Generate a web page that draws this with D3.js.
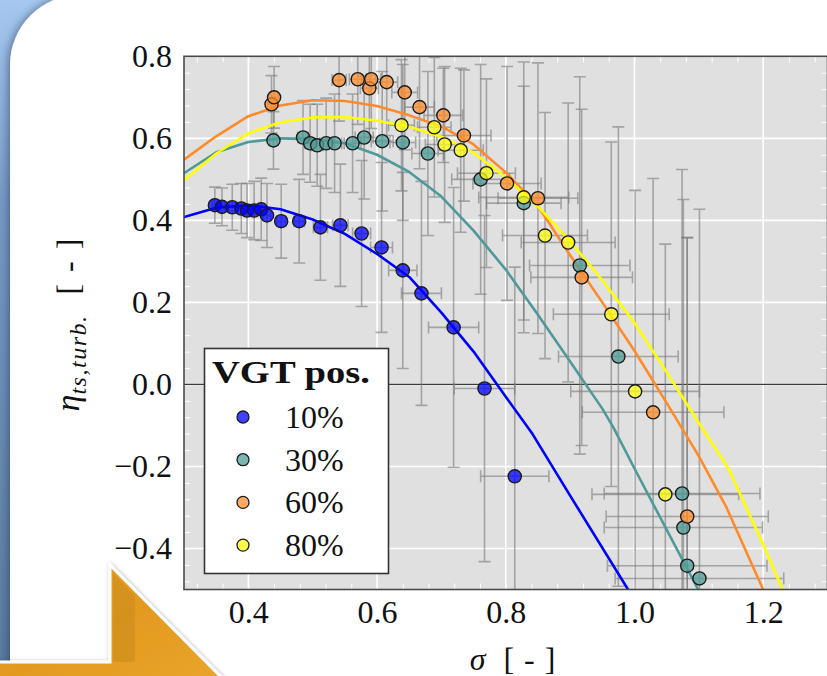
<!DOCTYPE html>
<html>
<head>
<meta charset="utf-8">
<script src="https://cdn.jsdelivr.net/npm/d3@7"></script>
<style>
  html, body { margin: 0; padding: 0; overflow: hidden; background: #fff; }
</style>
</head>
<body>
<div id="chart"></div>
<script>
const W = 827, H = 676;
const serif = "'Liberation Serif', 'Times New Roman', serif";

// measured points: [sigma, eta, sigma error, eta error]
const pos10 = [
  [0.348, 0.437, 0.004, 0.044], [0.359, 0.433, 0.004, 0.046], [0.375, 0.432, 0.005, 0.056],
  [0.389, 0.429, 0.005, 0.061], [0.398, 0.424, 0.005, 0.066], [0.409, 0.424, 0.006, 0.071],
  [0.420, 0.427, 0.006, 0.076], [0.429, 0.412, 0.006, 0.078], [0.451, 0.398, 0.007, 0.090],
  [0.479, 0.398, 0.008, 0.102], [0.512, 0.383, 0.011, 0.129], [0.543, 0.388, 0.012, 0.149],
  [0.576, 0.368, 0.014, 0.178], [0.607, 0.334, 0.017, 0.207], [0.640, 0.278, 0.022, 0.239],
  [0.669, 0.222, 0.031, 0.273], [0.719, 0.139, 0.039, 0.341], [0.767, -0.010, 0.047, 0.422],
  [0.814, -0.224, 0.053, 0.510]
];
const pos30 = [
  [0.439, 0.595, 0.006, 0.070], [0.485, 0.602, 0.008, 0.090], [0.496, 0.588, 0.008, 0.095],
  [0.507, 0.583, 0.009, 0.100], [0.521, 0.588, 0.010, 0.110], [0.534, 0.588, 0.011, 0.120],
  [0.562, 0.588, 0.013, 0.120], [0.580, 0.602, 0.014, 0.150], [0.608, 0.593, 0.017, 0.170],
  [0.640, 0.590, 0.020, 0.190], [0.679, 0.563, 0.025, 0.200], [0.761, 0.500, 0.045, 0.280],
  [0.828, 0.442, 0.058, 0.285], [0.915, 0.290, 0.078, 0.460], [0.975, 0.068, 0.093, 0.560],
  [1.074, -0.266, 0.121, 0.790], [1.076, -0.349, 0.123, 0.800], [1.082, -0.442, 0.124, 0.800],
  [1.101, -0.473, 0.131, 0.900]
];
const pos60 = [
  [0.436, 0.683, 0.006, 0.070], [0.440, 0.700, 0.006, 0.075], [0.541, 0.742, 0.011, 0.100],
  [0.570, 0.744, 0.013, 0.110], [0.588, 0.722, 0.014, 0.120], [0.591, 0.744, 0.015, 0.120],
  [0.615, 0.737, 0.017, 0.130], [0.643, 0.712, 0.020, 0.140], [0.666, 0.676, 0.023, 0.150],
  [0.703, 0.656, 0.030, 0.115], [0.735, 0.607, 0.042, 0.160], [0.802, 0.490, 0.053, 0.285],
  [0.850, 0.454, 0.062, 0.330], [0.918, 0.261, 0.079, 0.410], [1.029, -0.068, 0.110, 0.570],
  [1.082, -0.322, 0.126, 0.680]
];
const pos80 = [
  [0.638, 0.632, 0.020, 0.160], [0.689, 0.627, 0.026, 0.170], [0.705, 0.585, 0.030, 0.190],
  [0.730, 0.571, 0.035, 0.200], [0.770, 0.515, 0.045, 0.230], [0.828, 0.456, 0.070, 0.330],
  [0.861, 0.363, 0.066, 0.300], [0.897, 0.346, 0.073, 0.340], [0.964, 0.171, 0.090, 0.420],
  [1.001, -0.017, 0.100, 0.490], [1.048, -0.268, 0.114, 0.610]
];

// model curves: [sigma, eta]
const fit10 = [
  [0.30, 0.408], [0.35, 0.431], [0.40, 0.437], [0.45, 0.427], [0.50, 0.402], [0.55, 0.367],
  [0.60, 0.318], [0.65, 0.262], [0.70, 0.175], [0.75, 0.080], [0.80, -0.030], [0.84, -0.117],
  [0.90, -0.271], [0.99, -0.500], [1.00, -0.53]
];
const fit30 = [
  [0.30, 0.515], [0.35, 0.566], [0.40, 0.591], [0.45, 0.600], [0.50, 0.598], [0.55, 0.588],
  [0.60, 0.560], [0.65, 0.518], [0.70, 0.458], [0.75, 0.375], [0.80, 0.280], [0.85, 0.170],
  [0.90, 0.056], [0.95, -0.059], [0.967, -0.104], [1.00, -0.205], [1.099, -0.500], [1.11, -0.53]
];
const fit60 = [
  [0.30, 0.548], [0.35, 0.605], [0.40, 0.654], [0.45, 0.680], [0.50, 0.693], [0.55, 0.691],
  [0.60, 0.679], [0.65, 0.656], [0.70, 0.629], [0.75, 0.585], [0.80, 0.517], [0.85, 0.435],
  [0.90, 0.315], [0.95, 0.200], [1.00, 0.082], [1.05, -0.045], [1.10, -0.175], [1.143, -0.300],
  [1.20, -0.500], [1.21, -0.53]
];
const fit80 = [
  [0.30, 0.498], [0.35, 0.563], [0.40, 0.612], [0.45, 0.639], [0.50, 0.651], [0.55, 0.652],
  [0.60, 0.643], [0.65, 0.628], [0.70, 0.604], [0.75, 0.565], [0.80, 0.505], [0.85, 0.434],
  [0.90, 0.349], [0.95, 0.254], [1.00, 0.150], [1.05, 0.030], [1.10, -0.094], [1.146, -0.205],
  [1.20, -0.390], [1.23, -0.500], [1.24, -0.53]
];

const xTicks = [0.4, 0.6, 0.8, 1.0, 1.2];
const yTicks = [-0.4, -0.2, 0.0, 0.2, 0.4, 0.6, 0.8];
const labels = ['10%', '30%', '60%', '80%'];

const series = [
  { label: labels[0], pts: pos10, fit: fit10, line: '#0000ff', fill: '#0000ff' },
  { label: labels[1], pts: pos30, fit: fit30, line: '#4f9a98', fill: '#4f9c98' },
  { label: labels[2], pts: pos60, fit: fit60, line: '#ff8a2a', fill: '#ff8c2c' },
  { label: labels[3], pts: pos80, fit: fit80, line: '#ffff00', fill: '#ffff10' }
];

const pLeft = 184, pRight = 827.5, pTop = 56.3, pBottom = 589.5;

const svg = d3.select('#chart').append('svg')
    .attr('width', W)
    .attr('height', H)
    .style('display', 'block');

const defs = svg.append('defs');

const bg = defs.append('linearGradient').attr('id', 'bg')
    .attr('x1', 0).attr('y1', 0).attr('x2', 0).attr('y2', 1);
bg.append('stop').attr('offset', 0).attr('stop-color', '#a6c8f0');
bg.append('stop').attr('offset', 0.3).attr('stop-color', '#7a9bc6');
bg.append('stop').attr('offset', 1).attr('stop-color', '#5b7a9f');

const og = defs.append('linearGradient').attr('id', 'arrow')
    .attr('x1', 0).attr('y1', 0).attr('x2', 1).attr('y2', 1);
og.append('stop').attr('offset', 0).attr('stop-color', '#e9a028');
og.append('stop').attr('offset', 0.5).attr('stop-color', '#e39a1f');
og.append('stop').attr('offset', 1).attr('stop-color', '#eaa52c');

const sh = defs.append('filter').attr('id', 'shadow')
    .attr('x', -0.2).attr('y', -0.2).attr('width', 1.4).attr('height', 1.4);
sh.append('feDropShadow').attr('dx', -2).attr('dy', 0).attr('stdDeviation', 4)
    .attr('flood-color', '#1d3656').attr('flood-opacity', 0.55);

const sh2 = defs.append('filter').attr('id', 'shadow2')
    .attr('x', -0.2).attr('y', -0.2).attr('width', 1.4).attr('height', 1.4);
sh2.append('feDropShadow').attr('dx', 1).attr('dy', 1).attr('stdDeviation', 2)
    .attr('flood-color', '#000').attr('flood-opacity', 0.35);

defs.append('clipPath').attr('id', 'plotclip')
  .append('rect')
    .attr('x', pLeft).attr('y', pTop)
    .attr('width', pRight - pLeft).attr('height', pBottom - pTop);

// slide background
svg.append('rect').attr('width', W).attr('height', H).attr('fill', 'url(#bg)');
svg.append('path')
    .attr('d', `M10,65 A70,70 0 0 1 80,-5 L${W + 5},-5 L${W + 5},${H + 5} L10,${H + 5} Z`)
    .attr('fill', '#ffffff')
    .attr('filter', 'url(#shadow)');

const x = d3.scaleLinear().domain([0.3, 1.3]).range([pLeft, pRight]);
const y = d3.scaleLinear().domain([-0.5, 0.8]).range([pBottom, pTop]);

// axes background
svg.append('rect')
    .attr('x', pLeft).attr('y', pTop)
    .attr('width', pRight - pLeft).attr('height', pBottom - pTop)
    .attr('fill', '#e0e0e0');

const plot = svg.append('g').attr('clip-path', 'url(#plotclip)');

// grid
plot.append('g').selectAll('line')
  .data(xTicks)
  .enter().append('line')
    .attr('x1', d => x(d)).attr('x2', d => x(d))
    .attr('y1', pTop).attr('y2', pBottom)
    .attr('stroke', '#fff').attr('stroke-width', 1.6);
plot.append('g').selectAll('line')
  .data(yTicks)
  .enter().append('line')
    .attr('y1', d => y(d)).attr('y2', d => y(d))
    .attr('x1', pLeft).attr('x2', pRight)
    .attr('stroke', '#fff').attr('stroke-width', 1.6);

// minor ticks, inside, all four sides
const xMinor = d3.range(8, 33).map(i => i * 0.04);
const yMinor = d3.range(-12, 21).map(i => i * 0.04);
const minor = [
  [d3.axisBottom(x).tickValues(xMinor), `translate(0,${pBottom})`],
  [d3.axisTop(x).tickValues(xMinor), `translate(0,${pTop})`],
  [d3.axisLeft(y).tickValues(yMinor), `translate(${pLeft},0)`],
  [d3.axisRight(y).tickValues(yMinor), `translate(${pRight},0)`]
];
minor.forEach(([ax, tr]) => {
  const g = plot.append('g').attr('transform', tr)
      .call(ax.tickSize(-6).tickFormat(''));
  g.select('.domain').remove();
  g.selectAll('line').attr('stroke', '#fff').attr('stroke-width', 1);
});

// zero line
plot.append('line')
    .attr('x1', pLeft).attr('x2', pRight)
    .attr('y1', y(0)).attr('y2', y(0))
    .attr('stroke', '#3a3a3a').attr('stroke-width', 1.3);

// error bars
const cap = 6;
const bars = plot.append('g')
    .attr('stroke', '#7a7a7a')
    .attr('stroke-opacity', 0.6)
    .attr('stroke-width', 1.6)
    .attr('fill', 'none');
series.forEach(s => {
  bars.append('g').selectAll('path')
    .data(s.pts)
    .enter().append('path')
      .attr('d', d => {
        const cx = x(d[0]), cy = y(d[1]);
        const y0 = y(d[1] - d[3]), y1 = y(d[1] + d[3]);
        const x0 = x(d[0] - d[2]), x1 = x(d[0] + d[2]);
        return `M${cx},${y0}V${y1}` +
          `M${cx - cap},${y0}H${cx + cap}M${cx - cap},${y1}H${cx + cap}` +
          `M${x0},${cy}H${x1}` +
          `M${x0},${cy - cap}V${cy + cap}M${x1},${cy - cap}V${cy + cap}`;
      });
});

// model curves
const line = d3.line().x(d => x(d[0])).y(d => y(d[1]));
series.forEach(s => {
  plot.append('path')
      .datum(s.fit)
      .attr('d', line)
      .attr('fill', 'none')
      .attr('stroke', s.line)
      .attr('stroke-width', 2.6)
      .attr('stroke-linejoin', 'round');
});

// markers
series.forEach(s => {
  plot.append('g').selectAll('circle')
    .data(s.pts)
    .enter().append('circle')
      .attr('cx', d => x(d[0]))
      .attr('cy', d => y(d[1]))
      .attr('r', 6.6)
      .attr('fill', s.fill)
      .attr('fill-opacity', 0.75)
      .attr('stroke', '#1c1c1c')
      .attr('stroke-width', 1.4);
});

// frame
svg.append('rect')
    .attr('x', pLeft).attr('y', pTop)
    .attr('width', pRight - pLeft).attr('height', pBottom - pTop)
    .attr('fill', 'none')
    .attr('stroke', '#4a4a4a')
    .attr('stroke-width', 1.6);

// tick labels
const fmt = d3.format('.1f');
const xAxis = svg.append('g')
    .attr('transform', `translate(0,${pBottom})`)
    .call(d3.axisBottom(x).tickValues(xTicks).tickSize(0).tickPadding(11).tickFormat(fmt));
const yAxis = svg.append('g')
    .attr('transform', `translate(${pLeft},0)`)
    .call(d3.axisLeft(y).tickValues(yTicks).tickSize(0).tickPadding(12).tickFormat(fmt));
[xAxis, yAxis].forEach(g => {
  g.select('.domain').remove();
  g.selectAll('text')
      .attr('font-family', serif)
      .attr('font-size', 32)
      .attr('fill', '#111');
});

// axis titles (the reference crops the x title at the page edge)
const xl = svg.append('text')
    .attr('x', 513).attr('y', 670)
    .attr('text-anchor', 'middle')
    .attr('font-family', serif)
    .attr('font-size', 32)
    .attr('fill', '#111')
    .style('white-space', 'pre');
xl.append('tspan').attr('font-style', 'italic').text('σ');
xl.append('tspan').attr('letter-spacing', 1).text('  [ - ]');

const yl = svg.append('text')
    .attr('transform', 'translate(79,324) rotate(-90)')
    .attr('text-anchor', 'middle')
    .attr('font-family', serif)
    .attr('font-size', 32)
    .attr('fill', '#111')
    .style('white-space', 'pre');
yl.append('tspan').attr('font-style', 'italic').attr('font-size', 34).text('η');
yl.append('tspan').attr('font-style', 'italic').attr('font-size', 24)
    .attr('letter-spacing', 1.5).attr('dy', 7).text('ts,turb.');
yl.append('tspan').attr('dy', -7).attr('letter-spacing', 2).text('  [ - ]');

// legend
const legend = svg.append('g');
legend.append('rect')
    .attr('x', 204.5).attr('y', 348.5)
    .attr('width', 184).attr('height', 225)
    .attr('fill', '#fff')
    .attr('stroke', '#333')
    .attr('stroke-width', 1.6);
legend.append('text')
    .attr('x', 212).attr('y', 383)
    .attr('font-family', serif)
    .attr('font-size', 32)
    .attr('font-weight', 'bold')
    .attr('fill', '#111')
    .attr('textLength', 158)
    .attr('lengthAdjust', 'spacingAndGlyphs')
    .text('VGT pos.');
const item = legend.selectAll('g.item')
  .data(series)
  .enter().append('g')
    .attr('class', 'item')
    .attr('transform', (d, i) => `translate(243,${417 + i * 42.7})`);
item.append('circle')
    .attr('r', 6)
    .attr('fill', d => d.fill)
    .attr('fill-opacity', 0.75)
    .attr('stroke', '#1c1c1c')
    .attr('stroke-width', 1.3);
item.append('text')
    .attr('x', 42).attr('y', 11)
    .attr('font-family', serif)
    .attr('font-size', 32)
    .attr('fill', '#111')
    .text(d => d.label);

// orange arrow in the corner of the slide
svg.append('path')
    .attr('d', `M-6,662 L110,662 L110,565 L228,${H + 8} L-6,${H + 8} Z`)
    .attr('fill', 'url(#arrow)')
    .attr('stroke', '#ffffff')
    .attr('stroke-width', 3)
    .attr('filter', 'url(#shadow2)');
svg.append('path')
    .attr('d', 'M113,573 L113,662 L135,662 L135,596 Z')
    .attr('fill', '#c98a1c')
    .attr('opacity', 0.55);
</script>
</body>
</html>
